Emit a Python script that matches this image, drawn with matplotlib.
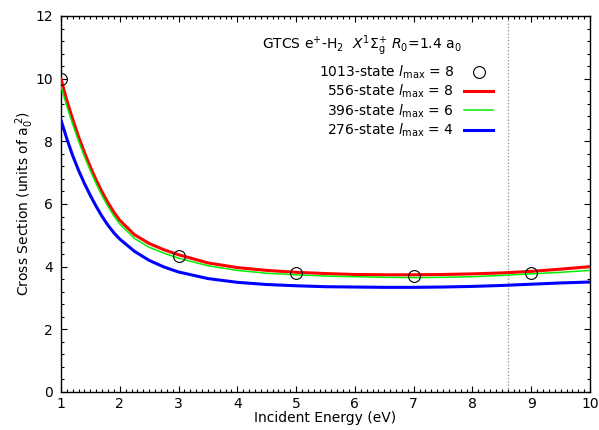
import numpy as np
import matplotlib
matplotlib.use('Agg')
import matplotlib.pyplot as plt

plt.rcParams['font.family'] = ['DejaVu Sans']
plt.rcParams['mathtext.fontset'] = 'dejavusans'

# energies (eV)
energy = [1.0, 1.1, 1.2, 1.3, 1.4, 1.5, 1.6, 1.7, 1.8, 1.9, 2.0, 2.25, 2.5, 2.75, 3.0,
          3.5, 4.0, 4.5, 5.0, 5.5, 6.0, 6.5, 7.0, 7.5, 8.0, 8.5, 9.0, 9.5, 10.0]
cs_556 = [10.0, 9.30, 8.70, 8.14, 7.64, 7.18, 6.76, 6.38, 6.04, 5.74, 5.48, 5.02, 4.74, 4.54, 4.38,
          4.12, 3.97, 3.88, 3.82, 3.78, 3.75, 3.74, 3.74, 3.75, 3.77, 3.80, 3.85, 3.92, 4.00]
cs_396 = [9.75, 9.12, 8.54, 8.00, 7.51, 7.06, 6.64, 6.26, 5.92, 5.62, 5.36, 4.90, 4.62, 4.43, 4.27,
          4.03, 3.88, 3.79, 3.74, 3.70, 3.68, 3.66, 3.65, 3.66, 3.68, 3.72, 3.77, 3.82, 3.88]
cs_276 = [8.68, 8.08, 7.54, 7.07, 6.65, 6.27, 5.92, 5.60, 5.32, 5.08, 4.88, 4.49, 4.20, 3.99, 3.83,
          3.62, 3.50, 3.43, 3.39, 3.36, 3.35, 3.34, 3.34, 3.35, 3.37, 3.40, 3.44, 3.48, 3.51]

# 1013-state points
energy_1013 = [1.0, 3.0, 5.0, 7.0, 9.0]
cs_1013 = [10.0, 4.34, 3.81, 3.70, 3.80]

threshold = 8.6

fig = plt.figure(figsize=(5.99, 4.30), dpi=100)
ax1 = fig.add_axes([0.1018, 0.0884, 0.8832, 0.8744])

ax1.axvline(threshold, color='#888888', linestyle=':', linewidth=0.9, zorder=1)

l1, = ax1.plot(energy_1013, cs_1013, 'o', mfc='none', mec='black', mew=0.8, ms=8.5,
               label=r'1013-state $l_{\rm max}$ = 8', zorder=5)
l2, = ax1.plot(energy, cs_556, color='#ff0000', lw=2.2, label=r'556-state $l_{\rm max}$ = 8', zorder=3)
l3, = ax1.plot(energy, cs_396, color='#00ee00', lw=1.1, label=r'396-state $l_{\rm max}$ = 6', zorder=4)
l4, = ax1.plot(energy, cs_276, color='#0000ff', lw=2.2, label=r'276-state $l_{\rm max}$ = 4', zorder=3)

ax1.set_xlim(1, 10)
ax1.set_ylim(0, 12)
ax1.set_xticks(np.arange(1, 11, 1))
ax1.set_yticks(np.arange(0, 13, 2))
ax1.set_xticks(np.arange(1, 10.01, 0.1), minor=True)
ax1.set_yticks(np.arange(0, 12.01, 0.4), minor=True)
ax1.tick_params(which='both', direction='in', top=True, right=True, labelsize=10, width=0.8)
ax1.tick_params(which='major', length=4.5)
ax1.tick_params(which='minor', length=2.2)
ax1.tick_params(axis='x', which='major', pad=3.5)
ax1.tick_params(axis='y', which='major', pad=6)
for s in ax1.spines.values():
    s.set_linewidth(1.0)

ax1.set_xlabel('Incident Energy (eV)', fontsize=10, labelpad=0)
ax1.set_ylabel(r'Cross Section (units of a$_0^{\ 2}$)', fontsize=10, labelpad=-1)

ax1.text(0.758, 0.920, r'GTCS e$^{+}$-H$_2$  $X^1\Sigma_{\rm g}^{+}$ $R_0$=1.4 a$_0$',
         transform=ax1.transAxes, ha='right', va='center', fontsize=10)

ax1.legend(handles=[l1, l2, l3, l4], loc='upper right', bbox_to_anchor=(0.817, 0.874),
           frameon=False, markerfirst=False, fontsize=10, borderpad=0, borderaxespad=0,
           handlelength=2.1, handletextpad=0.7, labelspacing=0.15)

fig.savefig('out.png', dpi=100)
